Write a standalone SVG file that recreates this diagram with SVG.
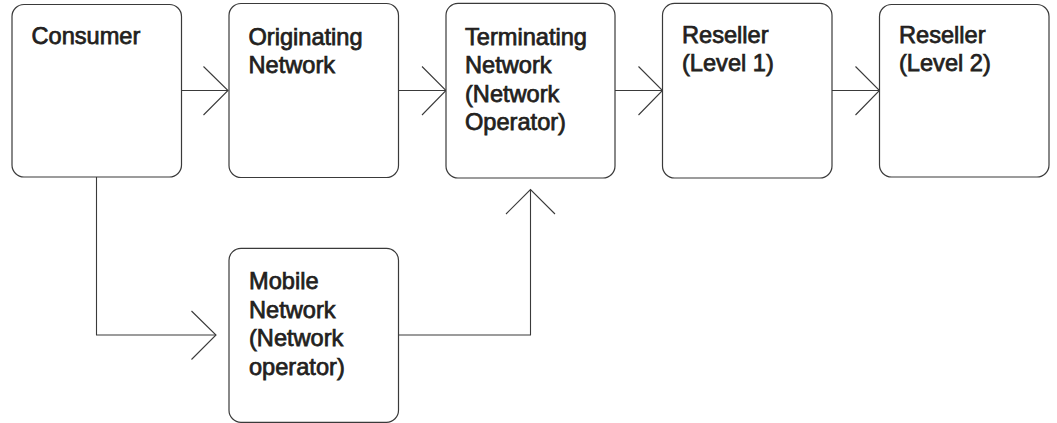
<svg xmlns="http://www.w3.org/2000/svg" width="1057" height="423" viewBox="0 0 1057 423">
  <style>
    .box { fill: #ffffff; stroke: #3a3a3a; stroke-width: 1.2; }
    .lbl { font-family: "Liberation Sans", Arial, sans-serif; font-size: 23.6px; font-weight: normal; fill: #231f20; stroke: #231f20; stroke-width: 0.75; }
    .wire { fill: none; stroke: #3a3a3a; stroke-width: 1.1; }
    .head { fill: none; stroke: #3a3a3a; stroke-width: 1.1; }
  </style>
  <rect width="1057" height="423" fill="#ffffff"/>

  <g id="connectors">
    <!-- Consumer -> Originating Network -->
    <line class="wire" x1="181.5" y1="90.5" x2="228" y2="90.5"/>
    <polyline class="head" points="203.5,66.5 228,90.5 203.5,115"/>
    <!-- Originating -> Terminating -->
    <line class="wire" x1="398.5" y1="90.5" x2="446" y2="90.5"/>
    <polyline class="head" points="422,66.5 446,90.5 422,115"/>
    <!-- Terminating -> Reseller (Level 1) -->
    <line class="wire" x1="615" y1="90.5" x2="662.5" y2="90.5"/>
    <polyline class="head" points="638.5,66.5 662.5,90.5 638.5,115"/>
    <!-- Reseller (Level 1) -> Reseller (Level 2) -->
    <line class="wire" x1="832" y1="90.5" x2="879.5" y2="90.5"/>
    <polyline class="head" points="855.5,66.5 879.5,90.5 855.5,115"/>
    <!-- Consumer -> Mobile Network -->
    <polyline class="wire" points="96.5,177 96.5,335 216,335"/>
    <polyline class="head" points="191.5,311 216,335 191.5,359.5"/>
    <!-- Mobile Network -> Terminating -->
    <polyline class="wire" points="398.5,335 530.5,335 530.5,189.5"/>
    <polyline class="head" points="506,214 530.5,189.5 555,214"/>
  </g>

  <g id="consumer">
    <rect class="box" x="12" y="4.5" width="169.5" height="172.5" rx="12"/>
    <text class="lbl" x="31.5" y="43.5">Consumer</text>
  </g>

  <g id="originating-network">
    <rect class="box" x="229" y="3.5" width="169.5" height="174" rx="12"/>
    <text class="lbl" x="248.5" y="44.5">Originating</text>
    <text class="lbl" x="248.5" y="72.7">Network</text>
  </g>

  <g id="terminating-network">
    <rect class="box" x="446" y="3.3" width="169" height="174.7" rx="12"/>
    <text class="lbl" x="465" y="44.8">Terminating</text>
    <text class="lbl" x="465" y="73.2">Network</text>
    <text class="lbl" x="465" y="101.6">(Network</text>
    <text class="lbl" x="465" y="130">Operator)</text>
  </g>

  <g id="reseller-level-1">
    <rect class="box" x="662.5" y="3.3" width="169.5" height="174.7" rx="12"/>
    <text class="lbl" x="682" y="42.5">Reseller</text>
    <text class="lbl" x="682" y="70.8">(Level 1)</text>
  </g>

  <g id="reseller-level-2">
    <rect class="box" x="879.5" y="4.5" width="169.5" height="172.5" rx="12"/>
    <text class="lbl" x="899" y="42.5">Reseller</text>
    <text class="lbl" x="899" y="70.8">(Level 2)</text>
  </g>

  <g id="mobile-network">
    <rect class="box" x="229" y="248.3" width="169.5" height="174" rx="12"/>
    <text class="lbl" x="249" y="289">Mobile</text>
    <text class="lbl" x="249" y="317.5">Network</text>
    <text class="lbl" x="249" y="346">(Network</text>
    <text class="lbl" x="249" y="374.5">operator)</text>
  </g>
</svg>
